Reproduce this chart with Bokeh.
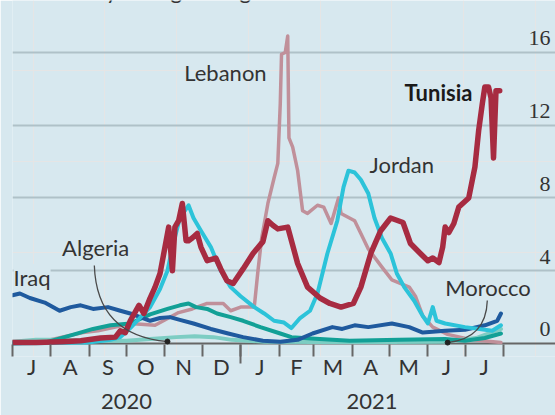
import pandas as pd
from bokeh.plotting import figure
from bokeh.models import (ColumnDataSource, Range1d, LinearAxis, FixedTicker, Grid,
                          Label, LabelSet, Span)
from bokeh.embed import file_html
from bokeh.resources import INLINE

# ---------------- data (deaths per million, 7-day rolling average) ----------------
tunisia_dates = ["2020-07-01", "2020-07-20", "2020-08-10", "2020-08-25", "2020-09-10", "2020-09-22",
                 "2020-09-26", "2020-09-30", "2020-10-04", "2020-10-11", "2020-10-15", "2020-10-20",
                 "2020-10-24", "2020-10-28", "2020-11-01", "2020-11-04", "2020-11-07", "2020-11-09",
                 "2020-11-12", "2020-11-15", "2020-11-18", "2020-11-20", "2020-11-23", "2020-11-27",
                 "2020-11-30", "2020-12-05", "2020-12-12", "2020-12-16", "2020-12-21", "2020-12-26",
                 "2021-01-03", "2021-01-11", "2021-01-19", "2021-01-23", "2021-01-27", "2021-01-31",
                 "2021-02-08", "2021-02-16", "2021-02-24", "2021-03-06", "2021-03-14", "2021-03-23",
                 "2021-04-02", "2021-04-08", "2021-04-16", "2021-04-24", "2021-05-02", "2021-05-12",
                 "2021-05-18", "2021-05-26", "2021-06-01", "2021-06-05", "2021-06-10", "2021-06-13",
                 "2021-06-15", "2021-06-18", "2021-06-22", "2021-06-26", "2021-07-04", "2021-07-09",
                 "2021-07-12", "2021-07-15", "2021-07-17", "2021-07-20", "2021-07-22", "2021-07-24",
                 "2021-07-26", "2021-07-29"]
tunisia_vals = [0.05, 0.05, 0.1, 0.15, 0.3, 0.35,
                0.7, 0.6, 1.25, 2.1, 1.65, 2.5,
                3.1, 3.85, 5.3, 6.4, 4.0, 6.4,
                6.75, 7.7, 5.65, 5.65, 5.8, 6.05,
                5.3, 4.55, 4.7, 4.1, 3.45, 3.3,
                4.1, 4.95, 5.6, 6.75, 6.5, 6.3,
                6.4, 4.4, 3.1, 2.5, 2.2, 2.0,
                2.2, 3.1, 4.95, 6.2, 6.9, 6.65,
                5.5, 4.95, 4.55, 4.7, 4.45, 5.3,
                6.4, 6.1, 6.6, 7.5, 8.0, 9.7,
                11.7, 13.2, 14.1, 14.1, 13.5, 10.2,
                13.9, 13.9]

lebanon_dates = ["2020-07-01", "2020-07-31", "2020-08-27", "2020-09-08", "2020-09-22", "2020-10-04",
                 "2020-10-24", "2020-11-12", "2020-11-23", "2020-12-05", "2020-12-18", "2020-12-24",
                 "2021-01-01", "2021-01-12", "2021-01-15", "2021-01-18", "2021-01-23", "2021-01-28",
                 "2021-01-31", "2021-02-02", "2021-02-03", "2021-02-06", "2021-02-08", "2021-02-09",
                 "2021-02-12", "2021-02-16", "2021-02-20", "2021-02-24", "2021-03-04", "2021-03-09",
                 "2021-03-15", "2021-03-21", "2021-03-23", "2021-04-03", "2021-04-08", "2021-04-14",
                 "2021-04-25", "2021-05-03", "2021-05-17", "2021-05-22", "2021-05-28", "2021-06-05",
                 "2021-06-17", "2021-07-07", "2021-07-30"]
lebanon_vals = [0.1, 0.2, 0.6, 0.7, 0.9, 1.1,
                1.0, 1.7, 1.9, 2.2, 2.2, 1.8,
                2.0, 2.0, 4.0, 5.8, 7.7, 9.1,
                9.9, 13.2, 15.9, 16.0, 16.9, 11.3,
                10.8, 9.5, 7.3, 7.15, 7.6, 7.5,
                6.6, 8.0, 7.15, 6.75, 6.05, 5.2,
                4.2, 3.5, 3.1, 2.6, 1.5, 0.9,
                0.5, 0.2, 0.05]

jordan_dates = ["2020-07-01", "2020-08-31", "2020-09-18", "2020-09-26", "2020-10-04", "2020-10-20",
                "2020-10-28", "2020-11-03", "2020-11-07", "2020-11-13", "2020-11-20", "2020-11-24",
                "2020-11-30", "2020-12-08", "2020-12-16", "2020-12-24", "2021-01-01", "2021-01-12",
                "2021-01-20", "2021-01-28", "2021-02-05", "2021-02-11", "2021-02-18", "2021-02-26",
                "2021-03-04", "2021-03-12", "2021-03-20", "2021-03-25", "2021-03-29", "2021-04-03",
                "2021-04-08", "2021-04-14", "2021-04-19", "2021-04-25", "2021-05-02", "2021-05-07",
                "2021-05-13", "2021-05-21", "2021-05-28", "2021-06-01", "2021-06-05", "2021-06-08",
                "2021-06-15", "2021-07-01", "2021-07-23", "2021-07-30"]
jordan_vals = [0.0, 0.05, 0.2, 0.35, 0.85, 2.0,
               3.0, 4.0, 5.3, 6.9, 7.6, 6.9,
               6.2, 5.3, 4.0, 3.1, 2.6, 2.0,
               1.65, 1.25, 1.15, 0.85, 1.4, 1.8,
               2.75, 4.95, 6.75, 8.6, 9.5, 9.4,
               9.0, 8.25, 6.9, 5.8, 4.95, 3.85,
               3.1, 2.35, 1.5, 1.1, 2.0, 1.25,
               1.1, 0.9, 0.7, 1.0]

iraq_dates = ["2020-07-01", "2020-07-07", "2020-07-15", "2020-07-27", "2020-08-08", "2020-08-17",
              "2020-08-25", "2020-09-04", "2020-09-16", "2020-09-26", "2020-10-04", "2020-10-12",
              "2020-10-20", "2020-10-28", "2020-11-05", "2020-11-13", "2020-11-24", "2020-12-08",
              "2020-12-22", "2021-01-03", "2021-01-19", "2021-02-02", "2021-02-16", "2021-02-28",
              "2021-03-16", "2021-03-24", "2021-04-03", "2021-04-14", "2021-05-03", "2021-05-17",
              "2021-05-28", "2021-06-15", "2021-07-01", "2021-07-17", "2021-07-27", "2021-07-30"]
iraq_vals = [2.65, 2.75, 2.5, 2.25, 1.8, 2.0,
             2.1, 1.9, 2.0, 1.8, 1.65, 1.45,
             1.25, 1.4, 1.45, 1.3, 1.1, 0.8,
             0.55, 0.35, 0.15, 0.1, 0.2, 0.55,
             0.9, 0.8, 1.0, 0.9, 1.1, 0.9,
             0.6, 0.7, 0.75, 1.0, 1.25, 1.65]

morocco_dates = ["2020-07-01", "2020-07-27", "2020-08-17", "2020-09-04", "2020-09-18", "2020-10-04",
                 "2020-10-20", "2020-11-03", "2020-11-13", "2020-11-20", "2020-11-26", "2020-12-05",
                 "2020-12-13", "2020-12-24", "2021-01-03", "2021-01-17", "2021-02-02", "2021-02-11",
                 "2021-02-27", "2021-03-30", "2021-05-09", "2021-06-15", "2021-07-01", "2021-07-17",
                 "2021-07-30"]
morocco_vals = [0.02, 0.05, 0.45, 0.8, 1.0, 1.1,
                1.6, 1.9, 2.1, 2.2, 2.0, 1.9,
                1.65, 1.45, 1.25, 0.9, 0.55, 0.35,
                0.28, 0.15, 0.2, 0.25, 0.15, 0.3,
                0.55]

algeria_dates = ["2020-07-01", "2020-07-20", "2020-08-10", "2020-09-01", "2020-10-01", "2020-10-20",
                 "2020-11-10", "2020-11-25", "2020-12-10", "2020-12-25", "2021-01-20", "2021-03-01",
                 "2021-05-01", "2021-06-15", "2021-07-10", "2021-07-30"]
algeria_vals = [0.1, 0.2, 0.2, 0.15, 0.15, 0.25,
                0.35, 0.4, 0.35, 0.2, 0.1, 0.08,
                0.08, 0.1, 0.3, 0.8]

y_ticks = [0, 4, 8, 12, 16]
month_starts = ["2020-07-01", "2020-08-01", "2020-09-01", "2020-10-01", "2020-11-01", "2020-12-01",
                "2021-01-01", "2021-02-01", "2021-03-01", "2021-04-01", "2021-05-01", "2021-06-01",
                "2021-07-01", "2021-08-01"]
month_labels = ["J", "A", "S", "O", "N", "D", "J", "F", "M", "A", "M", "J", "J"]
year_labels = ["2020", "2021"]
year_start = "2021-01-01"

# ---------------- styling ----------------
BG = "#d7e8ef"
GRID = "#afc1c8"
AXIS = "#666666"
TXT = "#333333"
FONT = "Lato"
FS = "22px"
C_TUN = "#a72b41"
C_LEB = "#c0909a"
C_JOR = "#2cc3d9"
C_IRQ = "#1f5a9e"
C_MOR = "#12a096"
C_ALG = "#7dcdc3"


def ms(d):
    return int(pd.Timestamp(d).value // 10**6)


x_start = "2020-07-01"
x_end = "2021-09-12"

p = figure(width=555, height=415, output_backend="svg", toolbar_location=None,
           x_axis_location=None, y_axis_location=None,
           x_range=Range1d(ms(x_start), ms(x_end)), y_range=Range1d(-0.715, 18.857),
           min_border_left=12, min_border_right=0, min_border_top=0, min_border_bottom=59,
           background_fill_color=BG, border_fill_color=BG, outline_line_color=None)
p.styles = {"position": "absolute", "left": "0px", "top": "0px"}

# grid and zero line
p.add_layout(Grid(dimension=1, ticker=FixedTicker(ticks=[t for t in y_ticks if t > 0]),
                  grid_line_color=GRID, grid_line_width=2))
p.add_layout(Span(location=0, dimension="width", line_color=AXIS, line_width=2, level="underlay"))

ms_starts = [ms(d) for d in month_starts]
jan = ms(year_start)

# axis 1: tick marks at month starts, longer at the year boundary
tick_axis = LinearAxis(ticker=FixedTicker(ticks=[jan], minor_ticks=ms_starts),
                       axis_line_color=None,
                       major_tick_line_color=AXIS, major_tick_line_width=2,
                       major_tick_in=12, major_tick_out=7,
                       minor_tick_line_color=AXIS, minor_tick_line_width=2,
                       minor_tick_in=12, minor_tick_out=0,
                       major_label_overrides={jan: ""}, major_label_text_font_size="0px",
                       major_label_standoff=0)
p.add_layout(tick_axis, "below")

# axis 2: month initials at mid-month
mids = [(a + b) // 2 for a, b in zip(ms_starts[:-1], ms_starts[1:])]
month_axis = LinearAxis(ticker=FixedTicker(ticks=mids, minor_ticks=[]),
                        major_label_overrides={m: l for m, l in zip(mids, month_labels)},
                        axis_line_color=None, major_tick_line_color=None,
                        minor_tick_line_color=None, major_tick_in=0, major_tick_out=0,
                        major_label_standoff=-11, major_label_text_font=FONT,
                        major_label_text_font_size=FS, major_label_text_color=TXT)
p.add_layout(month_axis, "below")

# axis 3: years centred under their months
year_pos = [(ms_starts[0] + jan) // 2, (jan + ms_starts[-1]) // 2]
year_axis = LinearAxis(ticker=FixedTicker(ticks=year_pos, minor_ticks=[]),
                       major_label_overrides={m: l for m, l in zip(year_pos, year_labels)},
                       axis_line_color=None, major_tick_line_color=None,
                       minor_tick_line_color=None, major_tick_in=0, major_tick_out=0,
                       major_label_standoff=11, major_label_text_font=FONT,
                       major_label_text_font_size=FS, major_label_text_color=TXT)
p.add_layout(year_axis, "below")

# right-hand value labels
ysrc = ColumnDataSource(dict(y=y_ticks, t=[str(v) for v in y_ticks]))
p.add_layout(LabelSet(x=538, x_units="screen", y="y", text="t", source=ysrc,
                      y_offset=7, text_align="right", text_baseline="alphabetic",
                      text_font=FONT, text_font_size=FS, text_color=TXT))

# series (drawing order: Lebanon at the back, Tunisia on top)
series = [
    (lebanon_dates, lebanon_vals, C_LEB, 3.5),
    (algeria_dates, algeria_vals, C_ALG, 4),
    (morocco_dates, morocco_vals, C_MOR, 4),
    (iraq_dates, iraq_vals, C_IRQ, 4),
    (jordan_dates, jordan_vals, C_JOR, 4),
    (tunisia_dates, tunisia_vals, C_TUN, 5.5),
]
for d, v, c, w in series:
    src = ColumnDataSource(dict(x=pd.to_datetime(d), y=v))
    p.line("x", "y", source=src, line_color=c, line_width=w, line_join="round", line_cap="round")

# pointer lines for Algeria and Morocco
ptr_x0 = [ms("2020-09-05"), ms("2021-07-19")]
ptr_y0 = [4.29, 2.36]
ptr_cx = [ms("2020-09-07"), ms("2021-07-18")]
ptr_cy = [0.44, 0.27]
ptr_x1 = [ms("2020-11-03"), ms("2021-06-17")]
ptr_y1 = [0.11, 0.05]
p.quadratic(x0=ptr_x0, y0=ptr_y0, x1=ptr_x1, y1=ptr_y1, cx=ptr_cx, cy=ptr_cy,
            line_color="#4a4a4a", line_width=1.3)
p.scatter(x=ptr_x1, y=ptr_y1, size=5, color="#222222")

# country labels
labels = [
    ("Tunisia", "2021-07-07", 13.8, "right", "bold"),
    ("Lebanon", "2021-01-22", 14.9, "right", "normal"),
    ("Jordan", "2021-04-15", 9.84, "left", "normal"),
    ("Algeria", "2020-08-10", 5.28, "left", "normal"),
    ("Morocco", "2021-06-15", 3.08, "left", "normal"),
]
for t, d, yv, al, fw in labels:
    p.add_layout(Label(x=ms(d), y=yv, text=t, text_align=al, text_baseline="alphabetic",
                       text_font=FONT, text_font_size=FS, text_font_style=fw,
                       text_color="#1a1a1a" if fw == "bold" else TXT))
p.add_layout(Label(x=ms("2020-07-01"), y=3.63, text="Iraq", text_align="left",
                   text_baseline="alphabetic", text_font=FONT, text_font_size=FS,
                   text_color=TXT, background_fill_color=BG, x_offset=1))

# title line, mostly cut off by the top of the picture (only descenders show)
p.add_layout(Label(x=ms("2020-08-10"), y=19.4, text="7-day rolling average", text_align="left",
                   text_baseline="alphabetic", text_font=FONT, text_font_size=FS, text_color=TXT))

open("out.html", "w").write(file_html(p, INLINE))
